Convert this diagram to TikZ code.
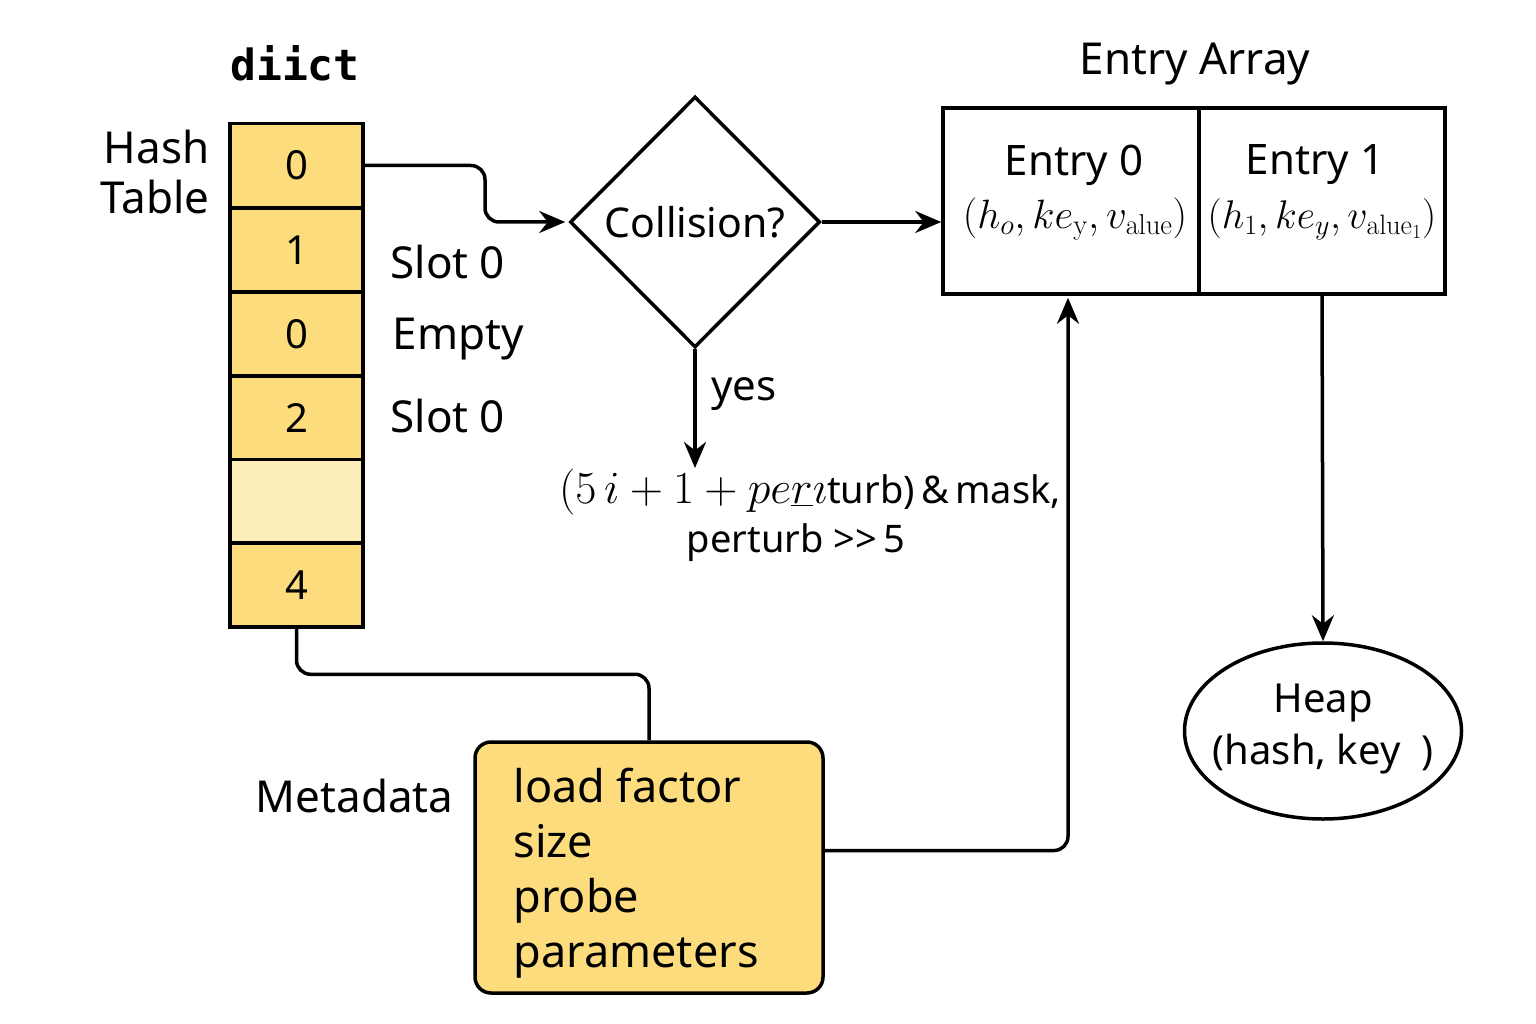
\documentclass[tikz,border=0pt]{standalone}
\usepackage{fix-cm}
\usepackage[no-math]{fontspec}
\setmainfont{Noto Sans}
\newfontfamily\dictmono{DejaVu Sans Mono}
\usetikzlibrary{shapes.geometric,arrows.meta,calc}
\definecolor{cellyellow}{HTML}{FCDC7C}
\definecolor{celllight}{HTML}{FDEEBA}
\tikzset{
  big/.style={font=\fontsize{44}{52}\selectfont},
  mid/.style={font=\fontsize{40}{48}\selectfont},
  cell/.style={draw, line width=3.5pt, fill=cellyellow, minimum width=133pt, minimum height=84pt, inner sep=0pt, mid},
  box/.style={draw, line width=3.5pt, inner sep=0pt},
  conn/.style={line width=3.5pt, rounded corners=14pt},
  arr/.style={conn, -{Stealth[length=26pt,width=22pt]}},
}
\begin{document}
\begin{tikzpicture}[x=1pt,y=-1pt]
\useasboundingbox (0,0) rectangle (1536,1024);
% title
\node[font=\fontsize{43}{48}\selectfont\dictmono\bfseries] (title) at (295,63) {diict};
\node[big, align=right, anchor=east, font=\fontsize{44}{50}\selectfont] (ht) at (213,172) {Hash\\Table};
% hash cells
\node[cell] (c0) at (296.5,165.5) {0};
\node[cell] (c1) at (296.5,250) {1};
\node[cell] (c2) at (296.5,334) {0};
\node[cell] (c3) at (296.5,418) {2};
\node[cell, fill=celllight] (c4) at (296.5,501.5) {};
\node[cell] (c5) at (296.5,585) {4};
% slot labels
\node[big, anchor=west] (s1) at (387,262) {Slot 0};
\node[big, anchor=west] (s2) at (389,339) {Empty};
\node[big, anchor=west] (s3) at (387,416) {Slot 0};
% diamond
\node[draw, line width=3.5pt, diamond, minimum width=250pt, minimum height=251pt, inner sep=0pt, font=\fontsize{41}{48}\selectfont] (diam) at (695,222) {Collision?};
\node[big, anchor=west, font=\fontsize{42}{48}\selectfont] (yes) at (708,394) {yes};
\node[font=\fontsize{38}{52}\selectfont, anchor=north] (form) at (810,466)
  {{\fontsize{46}{52}\selectfont$(5\,i + 1 + pe\underline{r}\imath$}turb)\,\&\,mask,};
\node[font=\fontsize{38}{52}\selectfont] (form2) at (796,543) {perturb {>}{>}\,5};
% entry array
\node[big] (eat) at (1195,64) {Entry Array};
\node[box, minimum width=256pt, minimum height=186pt] (e0) at (1071,201) {};
\node[box, minimum width=246pt, minimum height=186pt] (e1) at (1322,201) {};
\node[font=\fontsize{42}{48}\selectfont] (e0t) at (1074,165) {Entry 0};
\node[font=\fontsize{42}{48}\selectfont] (e1t) at (1315,165) {Entry 1};
\node[font=\fontsize{41}{46}\selectfont] (e0f) at (1075,219) {$(h_o, ke_{\mathrm{y}}, v_{\mathrm{alue}})$};
\node[font=\fontsize{40}{46}\selectfont] (e1f) at (1322,219) {$(h_1, ke_y, v_{\mathrm{alue}_1})$};
% heap
\node[draw, line width=3.5pt, ellipse, minimum width=277pt, minimum height=176pt, inner sep=0pt] (heap) at (1323,731) {};
\node[align=center, font=\fontsize{40}{52}\selectfont] (heapt) at (1323,729) {Heap\\(hash, key\ \ )};
% metadata
\node[draw, line width=3.5pt, fill=cellyellow, rounded corners=16pt, minimum width=348pt, minimum height=251pt] (meta) at (649,867.5) {};
\node[anchor=west, align=left, font=\fontsize{45}{55}\selectfont] (metat) at (510,873) {load factor\\size\\probe\\parameters};
\node[big, anchor=east] (metal) at (457,796) {Metadata};
% connectors
\coordinate (k1) at (485,0);
\draw[arr] (c0.east) -| (k1 |- diam.west) -- ([xshift=-3pt]diam.west);
\draw[arr] (diam.east) -- (diam.east -| e0.west);
\draw[arr] (diam.south) -- ([yshift=-2pt]diam.south |- form.north);
\draw[arr] (e1.south) -- (heap.north);
\draw[conn] (c5.south) |- ($(meta.north)+(0,-66)$) -- (meta.north);
\draw[arr] ([yshift=17pt]meta.east) -| ([xshift=-3pt,yshift=-2pt]e0.south);
\end{tikzpicture}
\end{document}
